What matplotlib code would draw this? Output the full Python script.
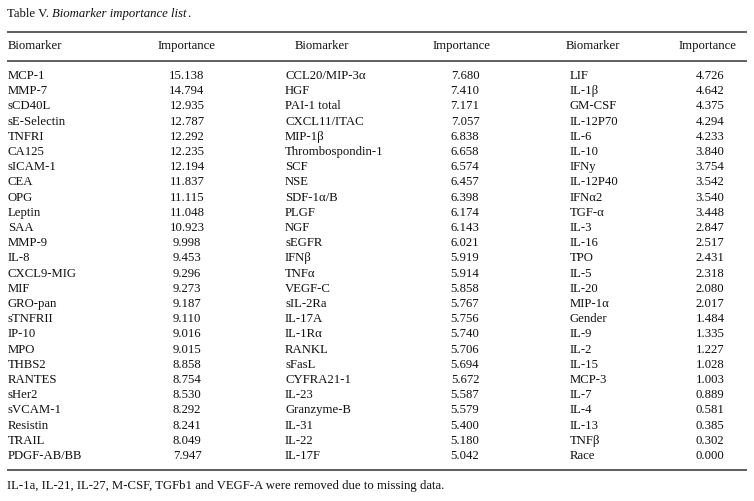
import matplotlib
matplotlib.use("Agg")
import matplotlib.pyplot as plt

biomarkers = [
    "MCP-1", "MMP-7", "sCD40L", "sE-Selectin", "TNFRI", "CA125", "sICAM-1", "CEA", "OPG", "Leptin",
    "SAA", "MMP-9", "IL-8", "CXCL9-MIG", "MIF", "GRO-pan", "sTNFRII", "IP-10", "MPO", "THBS2",
    "RANTES", "sHer2", "sVCAM-1", "Resistin", "TRAIL", "PDGF-AB/BB",
    "CCL20/MIP-3α", "HGF", "PAI-1 total", "CXCL11/ITAC", "MIP-1β", "Thrombospondin-1", "SCF", "NSE",
    "SDF-1α/B", "PLGF", "NGF", "sEGFR", "IFNβ", "TNFα", "VEGF-C", "sIL-2Ra", "IL-17A", "IL-1Rα",
    "RANKL", "sFasL", "CYFRA21-1", "IL-23", "Granzyme-B", "IL-31", "IL-22", "IL-17F",
    "LIF", "IL-1β", "GM-CSF", "IL-12P70", "IL-6", "IL-10", "IFNy", "IL-12P40", "IFNα2", "TGF-α",
    "IL-3", "IL-16", "TPO", "IL-5", "IL-20", "MIP-1α", "Gender", "IL-9", "IL-2", "IL-15", "MCP-3",
    "IL-7", "IL-4", "IL-13", "TNFβ", "Race",
]
importance = [
    15.138, 14.794, 12.935, 12.787, 12.292, 12.235, 12.194, 11.837, 11.115, 11.048,
    10.923, 9.998, 9.453, 9.296, 9.273, 9.187, 9.110, 9.016, 9.015, 8.858,
    8.754, 8.530, 8.292, 8.241, 8.049, 7.947,
    7.680, 7.410, 7.171, 7.057, 6.838, 6.658, 6.574, 6.457,
    6.398, 6.174, 6.143, 6.021, 5.919, 5.914, 5.858, 5.767, 5.756, 5.740,
    5.706, 5.694, 5.672, 5.587, 5.579, 5.400, 5.180, 5.042,
    4.726, 4.642, 4.375, 4.294, 4.233, 3.840, 3.754, 3.542, 3.540, 3.448,
    2.847, 2.517, 2.431, 2.318, 2.080, 2.017, 1.484, 1.335, 1.227, 1.028, 1.003,
    0.889, 0.581, 0.385, 0.302, 0.000,
]
headers = ["Biomarker", "Importance"]
title_plain = "Table V. "
title_italic = "Biomarker importance list"
footnote = "IL-1a, IL-21, IL-27, M-CSF, TGFb1 and VEGF-A were removed due to missing data."

W, H = 754, 501
fig = plt.figure(figsize=(W / 100, H / 100), dpi=100)
ax = fig.add_axes([0, 0, 1, 1])
ax.set_xlim(0, W)
ax.set_ylim(H, 0)
ax.axis("off")

FONT = "Liberation Serif"
FS = 9.2
col = "#111111"

# title
ty = 13.5
t1 = ax.text(7, ty, title_plain, fontfamily=FONT, fontsize=FS, va="center", ha="left", color=col)
fig.canvas.draw()
r = fig.canvas.get_renderer()
inv = ax.transData.inverted()
bb = t1.get_window_extent(r)
t2 = ax.text(inv.transform((bb.x1, 0))[0], ty, title_italic, fontfamily=FONT, fontsize=FS,
             style="italic", va="center", ha="left", color=col)
bb2 = t2.get_window_extent(r)
ax.text(inv.transform((bb2.x1, 0))[0], ty, ".", fontfamily=FONT, fontsize=FS,
        va="center", ha="left", color=col)

# rules
for y in (31.5, 60.5, 470):
    ax.plot([7, 747], [y, y], color="#333333", lw=1.1, solid_capstyle="butt")

nrows = 26
name_x = [8, 285, 570]
name_hdr_x = [8, 322, 593]
val_x = [187, 465, 710]
val_hdr_x = [187, 462, 708]
hy = 46

for c in range(3):
    ax.text(name_hdr_x[c], hy, headers[0], fontfamily=FONT, fontsize=FS,
            ha="left" if c == 0 else "center", va="center", color=col)
    ax.text(val_hdr_x[c], hy, headers[1], fontfamily=FONT, fontsize=FS, ha="center", va="center", color=col)
    for i in range(nrows):
        k = c * nrows + i
        y = 76 + i * 15.2
        ax.text(name_x[c], y, biomarkers[k], fontfamily=FONT, fontsize=FS, ha="left", va="center", color=col)
        ax.text(val_x[c], y, f"{importance[k]:.3f}", fontfamily=FONT, fontsize=FS, ha="center", va="center", color=col)

ax.text(7, 486, footnote, fontfamily=FONT, fontsize=FS, ha="left", va="center", color=col)

fig.savefig("out.png", dpi=100)
